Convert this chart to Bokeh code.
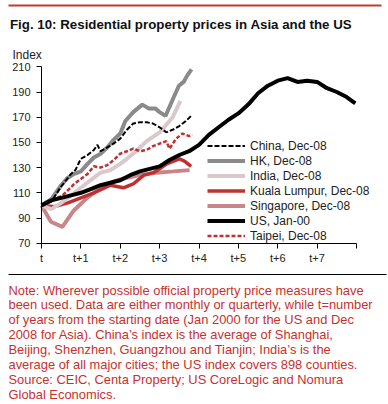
from bokeh.plotting import figure
from bokeh.models import (Range1d, FixedTicker, Legend, LegendItem, Label, BoxAnnotation, LinearAxis)
from bokeh.embed import file_html
from bokeh.resources import INLINE

# ---------------- data ----------------
china_t = [0, 0.25, 0.5, 0.75, 0.86, 1.0, 1.17, 1.33, 1.42, 1.5, 1.67, 1.83, 2.0, 2.17, 2.33, 2.5, 2.67, 2.83, 3.0, 3.17, 3.33, 3.5, 3.67, 3.83]
china_v = [100, 103, 115, 125, 128, 137, 140, 144, 148, 143, 146, 149, 153, 160, 165, 166, 166, 165, 162, 158, 160, 163, 167, 172]

hk_t = [0, 0.25, 0.5, 0.67, 0.83, 1.0, 1.17, 1.33, 1.5, 1.67, 1.83, 2.0, 2.13, 2.33, 2.56, 2.72, 2.89, 3.0, 3.15, 3.36, 3.49, 3.61, 3.70, 3.81]
hk_v = [100, 105, 116, 122, 125, 127, 133, 138, 141, 146, 152, 157, 167, 174, 180, 177, 177, 174, 171, 186, 195, 198, 203, 208]

india_t = [0, 0.25, 0.5, 0.75, 1.0, 1.25, 1.5, 1.75, 2.0, 2.17, 2.4, 2.67, 3.0, 3.17, 3.33, 3.53]
india_v = [100, 97, 102, 108, 114, 120, 126, 128, 133, 137, 143, 151, 158, 164, 170, 183]

kl_t = [0, 0.33, 0.67, 1.0, 1.33, 1.75, 2.08, 2.33, 2.6, 2.84, 3.0, 3.18, 3.5, 3.64, 3.8]
kl_v = [100, 99, 102, 106, 110, 116, 114, 117, 124, 126, 129, 133, 137, 135, 131]

sg_t = [0, 0.24, 0.53, 0.82, 1.16, 1.5, 1.83, 2.17, 2.5, 2.92, 3.35, 3.76]
sg_v = [100, 87, 83, 96, 106, 114, 119, 122, 124, 126, 127, 128]

us_t = [0, 0.25, 0.5, 0.75, 1.0, 1.25, 1.5, 1.75, 2.0, 2.25, 2.5, 2.75, 3.0, 3.25, 3.5, 3.75, 4.0, 4.25, 4.5, 4.75, 5.0, 5.25, 5.5, 5.75, 6.0, 6.25, 6.5, 6.75, 7.0, 7.25, 7.5, 7.75, 7.97]
us_v = [100, 104, 106, 108, 110, 113, 116, 118, 120, 124, 127, 129, 131, 136, 140, 143, 148, 156, 162, 168, 173, 180, 189, 195, 199, 201, 198, 199, 198, 193, 190, 186, 181]

tw_t = [0, 0.17, 0.33, 0.5, 0.67, 0.83, 1.0, 1.17, 1.33, 1.5, 1.67, 1.83, 2.0, 2.17, 2.33, 2.5, 2.67, 2.83, 3.0, 3.17, 3.25, 3.42, 3.58, 3.75, 3.83]
tw_v = [100, 103, 106, 107, 112, 117, 121, 125, 131, 130, 132, 136, 141, 143, 145, 143, 144, 147, 149, 151, 145, 153, 157, 155, 156]

series_names = ["China, Dec-08", "HK, Dec-08", "India, Dec-08", "Kuala Lumpur, Dec-08",
                "Singapore, Dec-08", "US, Jan-00", "Taipei, Dec-08"]

x_ticks = [0, 1, 2, 3, 4, 5, 6, 7, 8]
x_tick_labels = ["t", "t+1", "t+2", "t+3", "t+4", "t+5", "t+6", "t+7", ""]
y_ticks = [70, 90, 110, 130, 150, 170, 190, 210]

title_text = "Fig. 10: Residential property prices in Asia and the US"
y_title = "Index"
note_lines = [
    "Note: Wherever possible official property price measures have",
    "been used. Data are either monthly or quarterly, while t=number",
    "of years from the starting date (Jan 2000 for the US and Dec",
    "2008 for Asia). China\u2019s index is the average of Shanghai,",
    "Beijing, Shenzhen, Guangzhou and Tianjin; India\u2019s is the",
    "average of all major cities; the US index covers 898 counties.",
    "Source: CEIC, Centa Property; US CoreLogic and Nomura",
    "Global Economics.",
]

# ---------------- layout geometry (canvas pixels) ----------------
W, H = 388, 400
FONT = "Liberation Sans"
RED = "#C8302F"
X0_PX, X8_PX = 41.0, 356.0          # pixel of t and t+8
Y210_PX, Y70_PX = 66.3, 242.7       # pixel of 210 and 70
sx = (X8_PX - X0_PX) / 8.0
sy = (Y70_PX - Y210_PX) / 140.0
x_start = -X0_PX / sx
x_end = (W - X0_PX) / sx
y_end = 210 + Y210_PX / sy
y_start = 210 - (H - Y210_PX) / sy


def px2x(px):
    return (px - X0_PX) / sx


def px2y(py):
    return 210 - (py - Y210_PX) / sy


p = figure(width=W, height=H, output_backend="svg", toolbar_location=None,
           x_range=Range1d(x_start, x_end), y_range=Range1d(y_start, y_end),
           x_axis_location=None, y_axis_location=None, min_border=0)
p.outline_line_color = None
p.xgrid.visible = False
p.ygrid.visible = False
p.background_fill_color = "white"
p.border_fill_color = "white"

xaxis = LinearAxis(fixed_location=70, bounds=(0, 8), ticker=FixedTicker(ticks=x_ticks),
                   major_label_overrides={t: l for t, l in zip(x_ticks, x_tick_labels)})
yaxis = LinearAxis(fixed_location=0, bounds=(70, 210), ticker=FixedTicker(ticks=y_ticks))
for ax in (xaxis, yaxis):
    ax.axis_line_color = "black"
    ax.major_tick_line_color = "black"
    ax.major_tick_in = 0
    ax.major_tick_out = 5
    ax.minor_tick_line_color = None
    ax.major_label_text_font = FONT
    ax.major_label_text_font_size = "11px"
    ax.major_label_text_color = "#222222"
xaxis.major_label_standoff = 4
yaxis.major_label_standoff = 6
p.add_layout(xaxis, "below")
p.add_layout(yaxis, "left")

r_sg = p.line(sg_t, sg_v, line_color="#C8868A", line_width=4)
r_kl = p.line(kl_t, kl_v, line_color="#C03030", line_width=3.5)
r_in = p.line(india_t, india_v, line_color="#D9C9CC", line_width=4)
r_hk = p.line(hk_t, hk_v, line_color="#8A8A8A", line_width=4)
r_tw = p.line(tw_t, tw_v, line_color="#C03030", line_width=2.5, line_dash="4 2")
r_us = p.line(us_t, us_v, line_color="black", line_width=4)
r_cn = p.line(china_t, china_v, line_color="black", line_width=2, line_dash="5 2")

renderers = [r_cn, r_hk, r_in, r_kl, r_sg, r_us, r_tw]
legend = Legend(items=[LegendItem(label=n, renderers=[r]) for n, r in zip(series_names, renderers)],
                location=(207, H - 243), border_line_color=None, background_fill_alpha=0,
                padding=0, margin=0, spacing=0, label_height=15, glyph_height=15,
                glyph_width=38, label_standoff=5, label_text_font=FONT,
                label_text_font_size="12px", label_text_color="#222222")
p.add_layout(legend, "center")

# top red rule and separator line (positions given in canvas pixels, mapped to data)
p.add_layout(BoxAnnotation(left=px2x(8), right=px2x(381), top=px2y(4), bottom=px2y(6),
                           fill_color="#C03A30", fill_alpha=1, line_color=None))
p.add_layout(BoxAnnotation(left=px2x(8), right=px2x(386), top=px2y(273.4), bottom=px2y(274.6),
                           fill_color="black", fill_alpha=1, line_color=None))

p.add_layout(Label(x=px2x(9.5), y=px2y(24), text=title_text,
                   text_font=FONT, text_font_size="13.3px", text_font_style="bold",
                   text_color="#111111", text_baseline="alphabetic"))
p.add_layout(Label(x=px2x(12), y=px2y(54), text=y_title,
                   text_font=FONT, text_font_size="12px", text_color="#222222",
                   text_baseline="alphabetic"))
for i, line in enumerate(note_lines):
    p.add_layout(Label(x=px2x(8), y=px2y(289.5 + 14.9 * i),
                       text=line, text_font=FONT, text_font_size="12.9px",
                       text_color=RED, text_baseline="alphabetic"))

open("out.html", "w").write(file_html(p, INLINE))
